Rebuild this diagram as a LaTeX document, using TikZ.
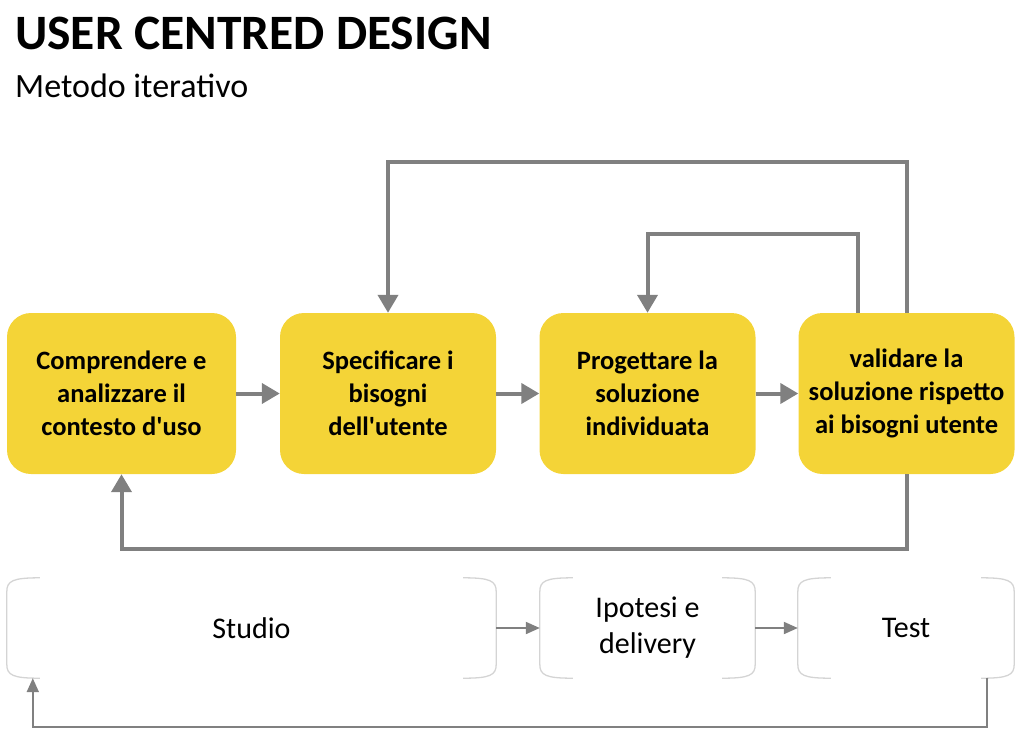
\documentclass[tikz,border=0pt]{standalone}
\usepackage{fontspec}
\setmainfont{Carlito}
\usetikzlibrary{arrows.meta,calc}
\definecolor{ybox}{HTML}{F4D437}
\definecolor{gline}{HTML}{808080}
\definecolor{bline}{HTML}{D4D4D4}
\tikzset{
  yellowbox/.style={fill=ybox, rounded corners=24pt, minimum width=216pt, minimum height=161pt,
    align=center, font=\fontsize{26.5}{33}\selectfont\bfseries, inner sep=0pt},
  bigarrow/.style={draw=gline, line width=4pt, -{Triangle[length=18pt,width=20pt]}},
  phasebox/.style={minimum height=100pt, align=center, font=\fontsize{30}{36}\selectfont, inner sep=0pt},
  brk/.style={draw=bline, line width=1.3pt},
  smallarrow/.style={draw=gline, line width=2pt, -{Triangle[length=14pt,width=12pt]}},
}
\newcommand{\phasebrackets}[1]{%
  \draw[brk] ([xshift=33pt]#1.north west) .. controls ([xshift=6pt]#1.north west) and ([yshift=-3pt]#1.north west) .. ([yshift=-14pt]#1.north west)
     -- ([yshift=14pt]#1.south west) .. controls ([yshift=3pt]#1.south west) and ([xshift=6pt]#1.south west) .. ([xshift=33pt]#1.south west);
  \draw[brk] ([xshift=-33pt]#1.north east) .. controls ([xshift=-6pt]#1.north east) and ([yshift=-3pt]#1.north east) .. ([yshift=-14pt]#1.north east)
     -- ([yshift=14pt]#1.south east) .. controls ([yshift=3pt]#1.south east) and ([xshift=-6pt]#1.south east) .. ([xshift=-33pt]#1.south east);
}
\begin{document}
\begin{tikzpicture}[x=1pt,y=-1pt]
\useasboundingbox (0,0) rectangle (1024,742);
\node[anchor=base west, font=\fontsize{49.5}{50}\selectfont\bfseries, inner sep=0pt] (title) at (15,49) {USER CENTRED DESIGN};
\node[anchor=base west, font=\fontsize{34}{34}\selectfont, inner sep=0pt] (sub) at (15,97) {Metodo iterativo};

\node[yellowbox, minimum width=229pt] (a) at (121.5,393.5) {Comprendere e\\analizzare il\\contesto d\textquotesingle uso};
\node[yellowbox] (b) at (388,393.5) {Specificare i\\bisogni\\dell\textquotesingle utente};
\node[yellowbox] (c) at (647.5,393.5) {Progettare la\\soluzione\\individuata};
\node[yellowbox] (d) at (906.5,393.5) {validare la\\soluzione rispetto\\ai bisogni utente};

\draw[bigarrow] (a.east) -- (b.west);
\draw[bigarrow] (b.east) -- (c.west);
\draw[bigarrow] (c.east) -- (d.west);

\draw[bigarrow] (d.north) -- ++(0,-151) -| (b.north);
\draw[bigarrow] ([xshift=-48.5pt]d.north) -- ++(0,-79) -| (c.north);
\draw[bigarrow] (d.south) -- ++(0,75) -| (a.south);

\node[phasebox, minimum width=489pt] (s) at (251.5,628) {Studio};
\node[phasebox, minimum width=215pt] (p) at (647.5,628) {Ipotesi e\\delivery};
\node[phasebox, minimum width=216pt] (t) at (906,628) {Test};
\phasebrackets{s}
\phasebrackets{p}
\phasebrackets{t}

\draw[smallarrow] (s.east) -- (p.west);
\draw[smallarrow] (p.east) -- (t.west);
\draw[smallarrow] ([xshift=-27pt]t.south east) -- ++(0,49) -| ([xshift=26pt]s.south west);
\end{tikzpicture}
\end{document}
